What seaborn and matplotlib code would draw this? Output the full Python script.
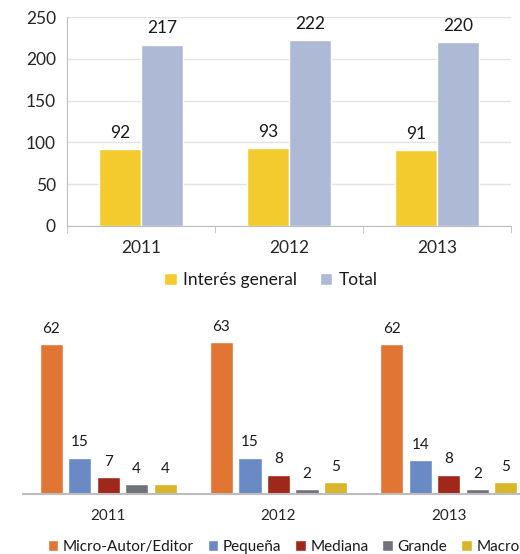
import matplotlib
matplotlib.use("Agg")
import matplotlib.pyplot as plt
import seaborn as sns
import pandas as pd

years = ["2011", "2012", "2013"]

# top chart
top_series = ["Interés general", "Total"]
interes_general = [92, 93, 91]
total = [217, 222, 220]
top_colors = ["#F4CB2F", "#AEB9D6"]

# bottom chart
bottom_series = ["Micro-Autor/Editor", "Pequeña", "Mediana", "Grande", "Macro"]
micro = [62, 63, 62]
pequena = [15, 15, 14]
mediana = [7, 8, 8]
grande = [4, 2, 2]
macro = [4, 5, 5]
bottom_colors = ["#E07534", "#6A8AC6", "#A0281A", "#70737A", "#D9B52A"]

top_df = pd.DataFrame({
    "year": years * 2,
    "serie": [top_series[0]] * 3 + [top_series[1]] * 3,
    "valor": interes_general + total,
})

bvals = [micro, pequena, mediana, grande, macro]
bottom_df = pd.DataFrame({
    "year": years * 5,
    "serie": [s for s in bottom_series for _ in years],
    "valor": [v for vals in bvals for v in vals],
})

sns.set_style("white")
plt.rcParams["font.family"] = ["Lato", "DejaVu Sans"]
plt.rcParams["text.color"] = "#1a1a1a"

fig = plt.figure(figsize=(5.2, 5.54), dpi=100)

# ---- top ----
ax1 = fig.add_axes([67 / 520, 328 / 554, 444 / 520, 209 / 554])
sns.barplot(data=top_df, x="year", y="valor", hue="serie", palette=top_colors,
            width=0.57, gap=0, saturation=1, ax=ax1, legend=True)
ax1.set_ylim(0, 250)
ax1.set_yticks(range(0, 251, 50))
ax1.set_xlim(-0.5, 2.5)
ax1.grid(axis="y", color="#e3e3e3", linewidth=1)
ax1.set_axisbelow(True)
for s in ["top", "right"]:
    ax1.spines[s].set_visible(False)
ax1.spines["left"].set_color("#bdbdbd")
ax1.spines["bottom"].set_color("#bdbdbd")
ax1.set_xlabel("")
ax1.set_ylabel("")
ax1.tick_params(axis="y", labelsize=12.5, length=0, pad=8)
ax1.tick_params(axis="x", labelsize=12.5, length=0, pad=10)
ax1.set_xticks([-0.5, 0.5, 1.5, 2.5], minor=True)
ax1.tick_params(axis="x", which="minor", length=5, color="#bdbdbd", bottom=True)
for c in ax1.containers:
    ax1.bar_label(c, fontsize=12.5, padding=6)
ax1.legend(loc="upper center", bbox_to_anchor=(0.46, -0.145), ncol=2, frameon=False,
           fontsize=12.5, handlelength=0.7, handleheight=0.7, handletextpad=0.4,
           columnspacing=1.3)

# ---- bottom ----
ax2 = fig.add_axes([23 / 520, 60 / 554, 511 / 520, 169 / 554])
sns.barplot(data=bottom_df, x="year", y="valor", hue="serie", palette=bottom_colors,
            width=0.838, gap=0.19, saturation=1, ax=ax2, legend=True)
ax2.set_ylim(0, 70)
ax2.set_xlim(-0.5, 2.5)
for s in ["top", "right", "left"]:
    ax2.spines[s].set_visible(False)
ax2.spines["bottom"].set_color("#bdbdbd")
ax2.spines["bottom"].set_linewidth(1.5)
ax2.set_yticks([])
ax2.set_xlabel("")
ax2.set_ylabel("")
ax2.tick_params(axis="x", labelsize=11, length=0, pad=11)
for c in ax2.containers:
    ax2.bar_label(c, fontsize=11, padding=6)
ax2.legend(loc="upper center", bbox_to_anchor=(0.51, -0.19), ncol=5, frameon=False,
           fontsize=11, handlelength=0.7, handleheight=0.7, handletextpad=0.3,
           columnspacing=0.9)

fig.savefig("out.png", dpi=100)
